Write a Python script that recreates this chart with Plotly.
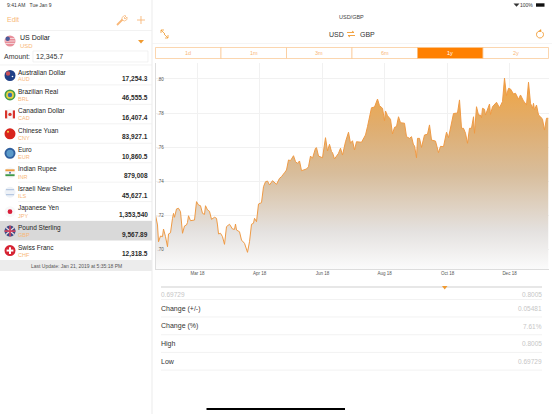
import math
import plotly.graph_objects as go

W, H = 552, 414
FONT = "Liberation Sans"
ORANGE = "#ff8000"
PALE = "#f8b778"

# chart data
days = [0, 2, 3, 5, 7, 8, 10, 12, 13, 15, 17, 18, 19, 21, 23, 25, 27, 29, 31, 32, 33, 35, 39, 41, 43, 45, 47, 49, 50,
        52, 54, 56, 59, 61, 62, 63, 65, 67, 69, 71, 74, 77, 79, 80, 81, 84, 86, 89, 92, 94, 96, 98, 99, 101, 103, 106,
        108, 110, 112, 114, 117, 121, 124, 126, 129, 131, 133, 135, 138, 140, 142, 144, 146, 151, 153, 155, 157, 160,
        161, 163, 167, 170, 172, 174, 176, 177, 179, 183, 185, 187, 190, 193, 195, 197, 199, 201, 206, 210, 212, 214,
        216, 219, 222, 224, 227, 229, 230, 232, 235, 237, 239, 241, 243, 245, 249, 251, 254, 256, 258, 259, 261, 262,
        264, 266, 269, 272, 274, 276, 280, 283, 285, 288, 291, 293, 295, 298, 302, 304, 306, 308, 310, 312, 314, 316,
        318, 319, 321, 323, 325, 326, 327, 329, 330, 332, 334, 335, 337, 341, 344, 347, 349, 351, 353, 355, 358, 360,
        363, 365, 368, 371, 373, 375, 377, 378, 379, 381, 383, 385, 387, 389, 391, 393]
rates = [.7200, .7142, .7043, .7077, .7073, .7118, .7073, .7014, .7089, .7096, .7181, .7210, .7187, .7236, .7240,
         .7220, .7093, .7136, .7142, .7157, .7196, .7167, .7171, .7279, .7259, .7255, .7210, .7204, .7255, .7230,
         .7222, .7175, .7187, .7181, .7142, .7089, .7093, .7073, .7028, .7132, .7146, .7118, .7116, .7147, .7112,
         .7102, .7053, .7034, .6981, .7043, .7146, .7152, .7181, .7161, .7265, .7273, .7367, .7396, .7400, .7377,
         .7402, .7381, .7416, .7426, .7449, .7465, .7524, .7520, .7549, .7514, .7504, .7518, .7461, .7471, .7484,
         .7547, .7534, .7593, .7596, .7547, .7537, .7655, .7577, .7616, .7573, .7567, .7530, .7563, .7593, .7553,
         .7631, .7687, .7622, .7637, .7583, .7631, .7628, .7671, .7720, .7778, .7831, .7835, .7882, .7843, .7828,
         .7755, .7812, .7784, .7763, .7677, .7716, .7720, .7778, .7743, .7740, .7661, .7651, .7661, .7612, .7608,
         .7537, .7651, .7651, .7598, .7671, .7675, .7730, .7641, .7635, .7567, .7604, .7602, .7687, .7655, .7716,
         .7797, .7800, .7877, .7710, .7710, .7681, .7622, .7710, .7710, .7778, .7681, .7837, .7788, .7788, .7772,
         .7828, .7822, .7788, .7818, .7853, .7792, .7837, .7863, .7831, .7867, .8005, .7902, .7945, .7941, .7912,
         .7916, .7881, .7906, .7871, .7847, .7981, .7857, .7828, .7857, .7818, .7847, .7788, .7778, .7763, .7700,
         .7769, .7769]
x_tick_days = [42, 104, 167, 229, 292, 354]
x_tick_text = ["Mar 18", "Apr 18", "Jun 18", "Aug 18", "Oct 18", "Dec 18"]
y_ticks = [.70, .72, .74, .76, .78, .80]
y_tick_text = [".70", ".72", ".74", ".76", ".78", ".80"]

currency_names = ["Australian Dollar", "Brazilian Real", "Canadian Dollar", "Chinese Yuan", "Euro", "Indian Rupee",
                  "Israeli New Shekel", "Japanese Yen", "Pound Sterling", "Swiss Franc"]
currency_codes = ["AUD", "BRL", "CAD", "CNY", "EUR", "INR", "ILS", "JPY", "GBP", "CHF"]
currency_values = ["17,254.3", "46,555.5", "16,407.4", "83,927.1", "10,860.5", "879,008", "45,627.1", "1,353,540",
                   "9,567.89", "12,318.5"]
ranges = ["1d", "1m", "3m", "6m", "1y", "2y"]
stat_names = ["Change (+/-)", "Change (%)", "High", "Low"]
stat_values = ["0.05481", "7.61%", "0.8005", "0.69729"]


def px(x):
    return x / W


def py(y):
    return 1 - y / H


fig = go.Figure()
fig.add_trace(go.Scatter(
    x=days, y=rates, mode="lines", line=dict(color="#ee9a45", width=1), fill="tozeroy",
    fillgradient=dict(type="vertical", start=.6883, stop=.8005,
                      colorscale=[[0, "#fbfbfb"], [.2, "#e4e1df"], [.5, "#d8bd9b"], [.75, "#e0ad6e"], [1, "#f2a540"]]),
    hoverinfo="skip", showlegend=False))


def text(x, y, s, size=8, color="#222222", anchor="left", bold=False):
    fig.add_annotation(x=px(x), y=py(y), xref="paper", yref="paper", text="<b>%s</b>" % s if bold else s,
                       showarrow=False, xanchor=anchor, yanchor="middle", borderpad=0, borderwidth=0,
                       font=dict(family=FONT, size=size, color=color))


def rect(x0, y0, x1, y1, fill=None, line=None, width=.7):
    fig.add_shape(type="rect", xref="paper", yref="paper", x0=px(x0), y0=py(y0), x1=px(x1), y1=py(y1),
                  fillcolor=fill, line=dict(color=line, width=width if line else 0), layer="above")


def hline(x0, x1, y, color="#ececec", width=.7):
    fig.add_shape(type="line", xref="paper", yref="paper", x0=px(x0), y0=py(y), x1=px(x1), y1=py(y),
                  line=dict(color=color, width=width), layer="above")


def circle(cx, cy, r, fill):
    fig.add_shape(type="circle", xref="paper", yref="paper", x0=px(cx - r), y0=py(cy - r), x1=px(cx + r),
                  y1=py(cy + r), fillcolor=fill, line=dict(width=0), layer="above")


def poly(points, fill=None, line=None, width=1, close=False):
    d = "M " + " L ".join("%.5f,%.5f" % (px(a), py(b)) for a, b in points)
    if close:
        d += " Z"
    fig.add_shape(type="path", xref="paper", yref="paper", path=d, fillcolor=fill,
                  line=dict(color=line, width=width if line else 0), layer="above")


def flag(code, cx, cy):
    r = 5.5
    base = {"AUD": "#1f3f86", "BRL": "#3f9b4c", "CAD": "#f7f7f7", "CNY": "#d8241c", "EUR": "#2f5f9e", "INR": "#f6f6f6",
            "ILS": "#eef2f7", "JPY": "#f8f8f8", "GBP": "#3a4b86", "CHF": "#d62333", "USD": "#e98f9a"}[code]
    circle(cx, cy, r, base)
    if code == "AUD":
        circle(cx - 2, cy - 2, 2.2, "#c8505a")
        circle(cx + 2.5, cy + 1, .8, "#ffffff")
    elif code == "BRL":
        circle(cx, cy, 3.9, "#e8d13f")
        circle(cx, cy, 2.2, "#3a6fb0")
    elif code == "CAD":
        rect(cx - 5, cy - 4, cx - 2.8, cy + 4, fill="#d8342c")
        rect(cx + 2.8, cy - 4, cx + 5, cy + 4, fill="#d8342c")
        circle(cx, cy, 1.7, "#d8342c")
    elif code == "CNY":
        circle(cx - 2, cy - 2, 1, "#f5d94a")
    elif code == "EUR":
        circle(cx, cy, 3.6, "#5b9ac9")
    elif code == "INR":
        rect(cx - 4.6, cy - 3.4, cx + 4.6, cy - 1.5, fill="#ef9a3c")
        rect(cx - 4.6, cy + 1.5, cx + 4.6, cy + 3.4, fill="#3f9a48")
        circle(cx, cy, .9, "#44609c")
    elif code == "ILS":
        hline(cx - 4, cx + 4, cy - 2.5, "#a9bedd", 1)
        hline(cx - 4, cx + 4, cy + 2.5, "#a9bedd", 1)
    elif code == "JPY":
        circle(cx, cy, 2.4, "#d81e3a")
    elif code == "GBP":
        poly([(cx - 4, cy - 3.5), (cx + 4, cy + 3.5)], line="#f3dfe0", width=1.3)
        poly([(cx - 4, cy + 3.5), (cx + 4, cy - 3.5)], line="#f3dfe0", width=1.3)
        hline(cx - 5.4, cx + 5.4, cy, "#d5405a", 1.6)
        poly([(cx, cy - 5.4), (cx, cy + 5.4)], line="#d5405a", width=1.6)
    elif code == "CHF":
        rect(cx - 3.4, cy - 1, cx + 3.4, cy + 1, fill="#ffffff")
        rect(cx - 1, cy - 3.4, cx + 1, cy + 3.4, fill="#ffffff")
    elif code == "USD":
        for dy in (-2.5, 0, 2.5):
            hline(cx - 4.8, cx + 4.8, cy + dy, "#f4e6e8", .8)
        circle(cx - 2.3, cy - 2.3, 2.2, "#4a5b9a")


# status bars
text(7, 5, "9:41 AM &nbsp;&nbsp;Tue Jan 9", 5, "#333333")
text(533, 5, "100%", 5, "#333333", "right")
rect(536, 3.3, 544.5, 6.7, fill="#111111")
poly([(513.5, 3.4), (516.5, 6.8), (519.5, 3.4)], fill="#333333", close=True)

# left panel
fig.add_shape(type="line", xref="paper", yref="paper", x0=px(152), y0=0, x1=px(152), y1=1,
              line=dict(color="#e2e2e2", width=.7), layer="above")
text(7, 20, "Edit", 7, PALE)
poly([(117, 25), (122.5, 19.5)], line=PALE, width=1.8)
poly([(122, 20), (122, 17.5), (124.5, 15.5), (126, 16), (124, 18), (125, 19), (127, 17), (127, 19.5), (124.5, 21), (122, 20)],
     line=PALE, width=.8)
poly([(137, 20), (145, 20)], line=PALE, width=.9)
poly([(141, 16), (141, 24)], line=PALE, width=.9)
hline(0, 152, 30.5)

flag("USD", 10, 41)
text(20, 37.5, "US Dollar", 7, "#222222")
text(20, 45.5, "USD", 6, PALE)
poly([(138, 40), (144, 40), (141, 43.5)], fill="#f09a30", close=True)
text(4, 56.5, "Amount:", 7, "#333333")
rect(33, 51, 148, 62, line="#ececec")
text(36, 56.5, "12,345.7", 7, "#333333")
hline(0, 152, 65)

for i, name in enumerate(currency_names):
    top = 65.5 + i * 19.45
    if name == "Pound Sterling":
        rect(0, top - .2, 152, top + 19.4, fill="#d9d9d9")
    flag(currency_codes[i], 10, top + 10)
    text(18, top + 6.5, name, 6.5, "#222222")
    text(18, top + 14, currency_codes[i], 5.5, PALE)
    text(148.5, top + 13.5, currency_values[i], 6.5, "#2a2a2a", "right", bold=True)
    if i < len(currency_names) - 1 and name != "Pound Sterling":
        hline(18, 152, top + 19.4)

rect(0, 260, 152, 271, fill="#ececec")
text(76, 265.5, "Last Update: Jan 21, 2019 at 5:35:18 PM", 5, "#555555", "center")

# right panel header
text(351, 17, "USD/GBP", 5.5, "#444444", "center")
text(336, 34, "USD", 7, "#333333", "center")
text(367, 34, "GBP", 7, "#333333", "center")
poly([(347, 32.5), (354, 32.5), (352, 31)], line="#f09a30", width=.9)
poly([(355, 35.5), (348, 35.5), (350, 37)], line="#f09a30", width=.9)
poly([(161, 30), (165, 34)], line="#f09a30", width=.8)
poly([(161, 33), (161, 30), (164, 30)], line="#f09a30", width=.8)
poly([(164, 34), (168, 38)], line="#f09a30", width=.8)
poly([(165, 38), (168, 38), (168, 35)], line="#f09a30", width=.8)
poly([(540 + 3.5 * math.cos(a / 10), 34.5 + 3.5 * math.sin(a / 10)) for a in range(-8, 52, 4)],
     line="#f09a30", width=.9)
poly([(541, 29), (541.5, 32), (538.5, 31.5)], fill="#f09a30", close=True)
hline(152, 552, 43.5, "#f1f1f1")

# range selector
seg = (548.5 - 155.5) / len(ranges)
for i, label in enumerate(ranges):
    x0 = 155.5 + i * seg
    on = label == "1y"
    rect(x0, 47.5, x0 + seg, 58.5, fill=ORANGE if on else "#ffffff", line="#f9c48c")
    text(x0 + seg / 2, 53, label, 5.5, "#ffffff" if on else PALE, "center")

# slider and stats
hline(161, 542, 287, "#cfcfcf", 1.1)
poly([(442, 286), (447.5, 286), (444.7, 289.5)], fill="#f09a30", close=True)
text(161, 294, "0.69729", 6.5, "#c6c6c6")
text(542, 294, "0.8005", 6.5, "#c6c6c6", "right")
hline(161, 542, 299.5)
for i, name in enumerate(stat_names):
    row_y = 308.5 + i * 17.7
    text(161, row_y, name, 7, "#333333")
    text(542, row_y, stat_values[i], 6.5, "#c6c6c6", "right")
    hline(161, 542, row_y + 8.5)

# home indicator
fig.add_shape(type="line", xref="paper", yref="paper", x0=px(206.5), y0=py(409), x1=px(345), y1=py(409),
              line=dict(color="#000000", width=2), layer="above")

fig.update_layout(
    width=W, height=H, autosize=False, margin=dict(l=0, r=0, t=0, b=0),
    paper_bgcolor="#ffffff", plot_bgcolor="#ffffff", showlegend=False,
    xaxis=dict(domain=[px(155.5), px(548.5)], range=[0, 393], tickmode="array", tickvals=x_tick_days,
               ticktext=x_tick_text, tickfont=dict(family=FONT, size=4.5, color="#555555"), ticks="",
               showgrid=True, gridcolor="#f1f1f1", gridwidth=.7, zeroline=False, showline=True, linecolor="#dddddd",
               linewidth=.7),
    yaxis=dict(domain=[py(269), py(63)], range=[.6883, .8094], tickmode="array", tickvals=y_ticks,
               ticktext=y_tick_text, ticklabelposition="inside", tickfont=dict(family=FONT, size=4.5, color="#555555"),
               ticks="", showgrid=True, gridcolor="#f1f1f1", gridwidth=.7, zeroline=False, showline=True,
               linecolor="#dddddd", linewidth=.7),
)

# the page body has its own margin, drop it so the picture sits at 0,0
fig.write_html("out.html", config={"displayModeBar": False},
               post_script="document.body.style.margin='0';document.body.style.overflow='hidden';")
